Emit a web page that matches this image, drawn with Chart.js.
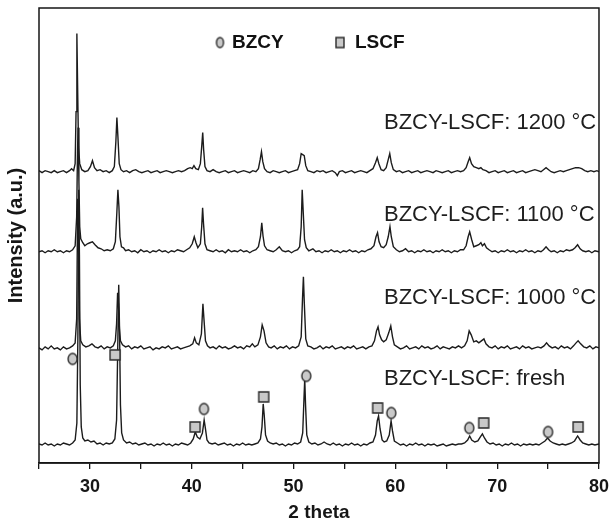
<!DOCTYPE html>
<html>
<head>
<meta charset="utf-8">
<script src="https://cdn.jsdelivr.net/npm/chart.js@4.4.1/dist/chart.umd.min.js"></script>
<style>
  html, body { margin: 0; padding: 0; background: #ffffff; }
  #c { display: block; }
</style>
</head>
<body>
<canvas id="c" width="616" height="524"></canvas>
<script>
// ---------------- DATA (2 theta, intensity above each trace's own baseline) ----------------
const xTickLabels = [30, 40, 50, 60, 70, 80];

const fresh = [[25.0,1],[25.3,0],[25.6,2],[25.9,0],[26.2,1],[26.5,-1],[26.8,1],[27.1,0],[27.4,2],[27.7,1],[28.0,0],[28.3,2],[28.55,5],[28.72,22],[28.82,110],[28.9,255],[28.97,190],[29.05,60],[29.15,18],[29.3,7],[29.5,4],[29.8,5],[30.1,3],[30.4,4],[30.7,1],[31.0,2],[31.3,0],[31.6,2],[31.9,1],[32.2,2],[32.45,6],[32.62,25],[32.73,95],[32.83,160],[32.91,115],[33.0,40],[33.12,12],[33.3,5],[33.6,2],[33.9,3],[34.2,1],[34.5,2],[34.8,0],[35.1,1],[35.4,2],[35.7,0],[36.0,1],[36.3,-1],[36.6,1],[36.9,0],[37.2,2],[37.5,0],[37.8,1],[38.1,-1],[38.4,1],[38.7,0],[39.0,2],[39.3,1],[39.6,0],[39.9,2],[40.15,6],[40.35,13],[40.55,8],[40.8,6],[41.05,12],[41.22,25],[41.35,16],[41.5,5],[41.7,2],[42.0,1],[42.3,2],[42.6,0],[42.9,1],[43.2,2],[43.5,0],[43.8,1],[44.1,-1],[44.4,1],[44.7,0],[45.0,2],[45.3,0],[45.6,1],[45.9,0],[46.2,1],[46.5,2],[46.75,6],[46.9,18],[47.02,41],[47.12,30],[47.25,10],[47.45,4],[47.7,2],[48.0,1],[48.3,2],[48.6,0],[48.9,1],[49.2,-1],[49.5,1],[49.8,0],[50.1,2],[50.4,1],[50.7,3],[50.9,12],[51.02,45],[51.1,66],[51.18,40],[51.3,10],[51.5,3],[51.8,1],[52.1,2],[52.4,0],[52.7,1],[53.0,3],[53.3,1],[53.6,0],[53.9,2],[54.2,0],[54.5,1],[54.8,-1],[55.1,1],[55.4,0],[55.7,2],[56.0,0],[56.3,1],[56.6,-1],[56.9,1],[57.2,0],[57.5,2],[57.8,3],[58.05,10],[58.22,24],[58.35,29],[58.5,16],[58.7,5],[58.9,3],[59.15,4],[59.4,10],[59.58,24],[59.72,14],[59.9,4],[60.2,2],[60.5,0],[60.8,1],[61.1,-1],[61.4,1],[61.7,0],[62.0,2],[62.3,0],[62.6,1],[62.9,-1],[63.2,1],[63.5,0],[63.8,1],[64.1,-1],[64.4,0],[64.7,1],[65.0,-1],[65.3,0],[65.6,1],[65.9,0],[66.2,1],[66.5,1],[66.8,2],[67.1,5],[67.3,9],[67.5,5],[67.8,3],[68.1,4],[68.35,8],[68.55,11],[68.75,7],[69.0,3],[69.3,1],[69.6,2],[69.9,0],[70.2,1],[70.5,-1],[70.8,1],[71.1,0],[71.4,2],[71.7,0],[72.0,1],[72.3,-1],[72.6,1],[72.9,0],[73.2,1],[73.5,0],[73.8,1],[74.1,0],[74.4,2],[74.7,4],[74.95,7],[75.2,4],[75.5,2],[75.8,1],[76.1,0],[76.4,1],[76.7,0],[77.0,1],[77.3,2],[77.6,4],[77.9,9],[78.15,5],[78.4,2],[78.7,1],[79.0,0],[79.3,1],[79.6,0],[80.0,1]];

const c1000 = [[25.0,1],[25.3,-1],[25.6,2],[25.9,0],[26.2,3],[26.5,0],[26.8,1],[27.1,-1],[27.4,2],[27.7,0],[28.0,1],[28.3,3],[28.55,6],[28.7,30],[28.8,150],[28.88,110],[28.97,30],[29.1,8],[29.3,4],[29.6,2],[29.9,3],[30.2,5],[30.5,2],[30.8,1],[31.1,3],[31.4,0],[31.7,2],[32.0,1],[32.3,3],[32.5,8],[32.62,25],[32.72,56],[32.8,45],[32.9,20],[33.0,8],[33.2,4],[33.5,2],[33.8,3],[34.1,0],[34.4,2],[34.7,1],[35.0,3],[35.3,0],[35.6,1],[35.9,2],[36.2,-1],[36.5,1],[36.8,0],[37.1,2],[37.4,1],[37.7,3],[38.0,0],[38.3,1],[38.6,2],[38.9,0],[39.2,1],[39.5,2],[39.8,3],[40.1,5],[40.28,11],[40.45,6],[40.7,4],[40.95,15],[41.1,45],[41.2,30],[41.35,8],[41.55,3],[41.8,1],[42.1,2],[42.4,0],[42.7,3],[43.0,1],[43.3,2],[43.6,0],[43.9,1],[44.2,3],[44.5,1],[44.8,2],[45.1,0],[45.4,3],[45.7,2],[45.95,5],[46.2,2],[46.5,4],[46.75,12],[46.92,24],[47.1,18],[47.3,6],[47.55,2],[47.8,1],[48.1,3],[48.4,0],[48.7,2],[49.0,1],[49.3,3],[49.6,0],[49.9,2],[50.2,1],[50.5,3],[50.75,12],[50.88,50],[50.97,72],[51.06,45],[51.2,10],[51.4,3],[51.7,2],[52.0,0],[52.3,1],[52.6,3],[52.9,0],[53.2,2],[53.5,1],[53.8,3],[54.1,0],[54.4,1],[54.7,2],[55.0,0],[55.3,2],[55.6,1],[55.9,3],[56.2,0],[56.5,1],[56.8,2],[57.1,0],[57.4,2],[57.7,3],[57.95,8],[58.15,18],[58.3,22],[58.45,14],[58.65,9],[58.85,7],[59.1,9],[59.35,16],[59.55,23],[59.72,12],[59.9,4],[60.2,2],[60.5,0],[60.8,1],[61.1,3],[61.4,0],[61.7,1],[62.0,2],[62.3,0],[62.6,3],[62.9,1],[63.2,2],[63.5,0],[63.8,1],[64.1,3],[64.4,0],[64.7,2],[65.0,1],[65.3,0],[65.6,2],[65.9,1],[66.2,3],[66.5,1],[66.8,3],[67.05,8],[67.25,18],[67.45,14],[67.7,7],[67.95,8],[68.2,6],[68.45,8],[68.7,10],[68.9,5],[69.2,2],[69.5,1],[69.8,3],[70.1,0],[70.4,2],[70.7,1],[71.0,3],[71.3,0],[71.6,1],[71.9,2],[72.2,0],[72.5,3],[72.8,1],[73.1,2],[73.4,0],[73.7,1],[74.0,2],[74.3,1],[74.6,3],[74.85,6],[75.1,3],[75.4,1],[75.7,2],[76.0,0],[76.3,3],[76.6,1],[76.9,2],[77.2,0],[77.5,3],[77.75,6],[77.95,8],[78.2,5],[78.5,2],[78.8,1],[79.1,3],[79.4,0],[79.7,2],[80.0,1]];

const c1100 = [[25.0,0],[25.3,1],[25.6,-1],[25.9,1],[26.2,0],[26.5,2],[26.8,0],[27.1,1],[27.4,-1],[27.7,1],[28.0,0],[28.3,2],[28.55,6],[28.7,35],[28.78,100],[28.84,124],[28.92,70],[29.0,25],[29.1,13],[29.3,9],[29.5,6],[29.75,8],[30.0,9],[30.25,10],[30.5,7],[30.8,4],[31.1,3],[31.4,1],[31.7,2],[32.0,1],[32.3,3],[32.5,10],[32.65,40],[32.75,62],[32.85,45],[32.95,15],[33.1,5],[33.3,4],[33.5,1],[33.8,2],[34.1,0],[34.4,1],[34.7,-1],[35.0,2],[35.3,0],[35.6,1],[35.9,-1],[36.2,1],[36.5,0],[36.8,2],[37.1,0],[37.4,1],[37.7,-1],[38.0,1],[38.3,0],[38.6,2],[38.9,1],[39.2,0],[39.5,2],[39.8,4],[40.05,8],[40.25,15],[40.42,9],[40.6,4],[40.85,8],[40.98,25],[41.07,44],[41.16,28],[41.3,8],[41.5,2],[41.8,1],[42.1,0],[42.4,2],[42.7,0],[43.0,1],[43.3,-1],[43.6,2],[43.9,0],[44.2,1],[44.5,0],[44.8,2],[45.1,0],[45.4,1],[45.7,-1],[46.0,1],[46.3,2],[46.55,5],[46.75,15],[46.88,29],[47.0,16],[47.15,6],[47.4,2],[47.7,1],[48.0,0],[48.3,2],[48.6,5],[48.9,1],[49.2,0],[49.5,1],[49.8,-1],[50.1,1],[50.4,2],[50.6,5],[50.75,25],[50.85,62],[50.95,40],[51.08,12],[51.25,4],[51.5,1],[51.9,3],[52.2,0],[52.5,1],[52.8,-1],[53.1,1],[53.4,0],[53.7,2],[54.0,0],[54.3,1],[54.6,-1],[54.9,1],[55.2,0],[55.5,2],[55.8,0],[56.1,1],[56.4,-1],[56.7,1],[57.0,0],[57.3,2],[57.6,3],[57.9,6],[58.1,15],[58.25,19],[58.4,10],[58.6,5],[58.85,4],[59.1,7],[59.3,15],[59.47,25],[59.6,15],[59.8,5],[60.1,2],[60.4,0],[60.7,1],[61.0,3],[61.3,0],[61.6,1],[61.9,-1],[62.2,1],[62.5,0],[62.8,2],[63.1,0],[63.4,1],[63.7,-1],[64.0,1],[64.3,0],[64.6,2],[64.9,0],[65.2,1],[65.5,-1],[65.8,1],[66.1,0],[66.4,2],[66.7,2],[66.95,6],[67.15,15],[67.3,20],[67.5,12],[67.7,5],[67.95,6],[68.2,7],[68.4,9],[68.55,6],[68.75,8],[68.95,4],[69.2,2],[69.5,0],[69.8,1],[70.1,-1],[70.4,1],[70.7,0],[71.0,2],[71.3,0],[71.6,1],[71.9,-1],[72.2,1],[72.5,0],[72.8,2],[73.1,0],[73.4,1],[73.7,-1],[74.0,1],[74.3,0],[74.55,2],[74.8,5],[75.05,2],[75.3,0],[75.6,1],[75.9,-1],[76.2,1],[76.5,0],[76.8,2],[77.1,1],[77.4,2],[77.65,4],[77.9,7],[78.15,3],[78.4,1],[78.7,0],[79.0,1],[79.3,-1],[79.6,1],[80.0,0]];

const c1200 = [[25.0,1],[25.3,-1],[25.6,1],[25.9,0],[26.2,-1],[26.5,1],[26.8,-1],[27.1,0],[27.4,1],[27.7,-1],[28.0,1],[28.2,3],[28.4,1],[28.55,8],[28.64,60],[28.72,138],[28.8,80],[28.88,25],[29.0,8],[29.2,2],[29.5,0],[29.8,1],[30.05,5],[30.25,11],[30.45,4],[30.7,1],[31.0,2],[31.3,0],[31.6,1],[31.9,-1],[32.2,1],[32.4,5],[32.55,30],[32.65,54],[32.75,35],[32.88,8],[33.05,2],[33.3,0],[33.6,1],[33.9,-1],[34.2,1],[34.5,2],[34.8,0],[35.1,-1],[35.4,0],[35.7,1],[36.0,-1],[36.3,0],[36.6,1],[36.9,-1],[37.2,0],[37.5,1],[37.8,0],[38.1,-1],[38.4,0],[38.7,1],[39.0,0],[39.3,1],[39.6,3],[39.85,4],[40.05,3],[40.22,6],[40.4,3],[40.65,2],[40.85,8],[40.98,25],[41.08,39],[41.17,22],[41.3,5],[41.5,1],[41.8,0],[42.1,2],[42.4,0],[42.7,-1],[43.0,0],[43.3,1],[43.6,-1],[43.9,0],[44.2,1],[44.5,-1],[44.8,0],[45.1,1],[45.4,0],[45.7,-1],[46.0,1],[46.3,0],[46.55,3],[46.72,12],[46.85,20],[46.98,10],[47.15,3],[47.4,0],[47.7,-1],[48.0,1],[48.3,0],[48.6,-1],[48.9,0],[49.2,1],[49.5,-1],[49.8,0],[50.1,1],[50.4,2],[50.6,8],[50.75,18],[50.9,17],[51.05,16],[51.2,6],[51.4,1],[51.7,0],[52.0,-1],[52.3,1],[52.6,0],[52.9,1],[53.2,-1],[53.5,0],[53.8,1],[54.1,-1],[54.3,-4],[54.5,0],[54.8,1],[55.1,-1],[55.4,0],[55.7,1],[56.0,-1],[56.3,0],[56.6,1],[56.9,0],[57.2,-1],[57.5,1],[57.8,3],[58.05,9],[58.22,14],[58.38,8],[58.6,2],[58.85,1],[59.1,4],[59.3,12],[59.45,18],[59.6,9],[59.8,2],[60.1,0],[60.4,1],[60.7,-1],[61.0,0],[61.3,1],[61.6,-1],[61.9,0],[62.2,1],[62.5,-1],[62.8,0],[63.1,1],[63.4,0],[63.7,-1],[64.0,1],[64.3,0],[64.6,-1],[64.9,0],[65.2,1],[65.5,-1],[65.8,0],[66.1,1],[66.4,0],[66.7,1],[66.95,4],[67.15,10],[67.3,14],[67.48,8],[67.7,5],[67.95,4],[68.2,3],[68.4,4],[68.6,2],[68.9,1],[69.2,-1],[69.5,0],[69.8,1],[70.1,-1],[70.4,0],[70.7,1],[71.0,-1],[71.3,0],[71.6,1],[71.9,-1],[72.2,0],[72.5,1],[72.8,-1],[73.1,0],[73.4,1],[73.7,2],[74.0,1],[74.3,0],[74.55,2],[74.8,4],[75.05,2],[75.3,0],[75.6,-1],[75.9,0],[76.2,1],[76.5,0],[76.8,1],[77.1,2],[77.4,3],[77.7,4],[78.0,4],[78.3,3],[78.6,1],[78.9,0],[79.2,1],[79.5,0],[79.8,1],[80.0,0]];

// vertical offsets of each trace (stacked display, arbitrary units)
const seriesNames   = ['BZCY-LSCF: fresh', 'BZCY-LSCF: 1000 °C', 'BZCY-LSCF: 1100 °C', 'BZCY-LSCF: 1200 °C'];
const seriesOffsets = [18, 114, 211, 291];
const labelLevels   = [84, 165, 248, 340];   // y value (same units) where each trace name sits

// phase markers on the fresh pattern: [2 theta, y]
const bzcyMarks = [[28.3,104],[41.2,54],[51.25,87],[59.6,50],[67.26,35],[75.0,31]];
const lscfMarks = [[32.47,108],[40.33,36],[47.07,66],[58.26,55],[68.68,40],[77.95,36]];

const yMax = 454.5;
// -------------------------------------------------------------------------------------------

const FONT = '"Liberation Sans", Arial, Helvetica, sans-serif';
const INK = '#161616';

function markerCanvas(kind, w, h) {
  const c = document.createElement('canvas');
  c.width = w + 4; c.height = h + 4;
  const g = c.getContext('2d');
  g.fillStyle = '#c9c9c9';
  g.strokeStyle = '#2a2a2a';
  g.lineWidth = 1.4;
  g.beginPath();
  if (kind === 'ellipse') g.ellipse(c.width / 2, c.height / 2, w / 2, h / 2, 0, 0, Math.PI * 2);
  else g.rect(2, 2, w, h);
  g.fill(); g.stroke();
  return c;
}
const ellipseMark = markerCanvas('ellipse', 9, 11);
const squareMark  = markerCanvas('rect', 10, 10);
const ellipseSmall = markerCanvas('ellipse', 7, 10);
const squareSmall  = markerCanvas('rect', 8, 10);

const traces = [fresh, c1000, c1100, c1200];
const lineSets = traces.map((arr, i) => ({
  type: 'line',
  label: seriesNames[i],
  data: arr.map(p => ({ x: p[0], y: p[1] + seriesOffsets[i] })),
  borderColor: '#1c1c1c',
  borderWidth: 1.4,
  pointRadius: 0,
  tension: 0,
  fill: false
}));

const markerSets = [
  { type: 'scatter', label: 'BZCY', data: bzcyMarks.map(p => ({ x: p[0], y: p[1] })), pointStyle: ellipseMark, pointRadius: 6 },
  { type: 'scatter', label: 'LSCF', data: lscfMarks.map(p => ({ x: p[0], y: p[1] })), pointStyle: squareMark, pointRadius: 6 }
];

const framePlugin = {
  id: 'frame',
  afterDatasetsDraw(chart) {
    const { ctx, chartArea: a } = chart;
    ctx.save();
    ctx.strokeStyle = INK;
    ctx.lineWidth = 1.5;
    ctx.strokeRect(a.left, a.top, a.right - a.left, a.bottom - a.top);
    ctx.restore();
  }
};

const annotationPlugin = {
  id: 'labels',
  afterDraw(chart) {
    const { ctx } = chart;
    const y = chart.scales.y;
    ctx.save();
    // trace names
    ctx.fillStyle = '#1e1e1e';
    ctx.font = '22px ' + FONT;
    ctx.textBaseline = 'middle';
    ctx.textAlign = 'left';
    seriesNames.forEach((name, i) => {
      ctx.fillText(name, 384, y.getPixelForValue(labelLevels[i]));
    });
    // legend
    const ly = y.getPixelForValue(420);
    ctx.drawImage(ellipseSmall, 220 - ellipseSmall.width / 2, ly - ellipseSmall.height / 2);
    ctx.drawImage(squareSmall, 340 - squareSmall.width / 2, ly - squareSmall.height / 2);
    ctx.font = 'bold 19px ' + FONT;
    ctx.fillStyle = '#111';
    ctx.fillText('BZCY', 232, ly);
    ctx.fillText('LSCF', 355, ly);
    ctx.restore();
  }
};

new Chart(document.getElementById('c'), {
  data: { datasets: [...markerSets, ...lineSets] },
  options: {
    responsive: false,
    devicePixelRatio: 1,
    animation: false,
    events: [],
    layout: { padding: { top: 8, right: 13, left: 0, bottom: 0 } },
    plugins: { legend: { display: false }, tooltip: { enabled: false } },
    scales: {
      x: {
        type: 'linear',
        position: 'bottom',
        min: 25, max: 80,
        afterFit: s => { s.height = 61; },
        afterBuildTicks: s => {
          const t = [];
          for (let v = 25; v <= 80; v += 5) t.push({ value: v });
          s.ticks = t;
        },
        ticks: {
          autoSkip: false, maxRotation: 0, padding: 7,
          color: INK,
          font: { family: FONT, size: 18, weight: 'bold' },
          callback: v => (xTickLabels.includes(v) ? String(v) : '')
        },
        grid: { drawOnChartArea: false, drawTicks: true, tickLength: 6, color: INK, lineWidth: 1.3 },
        border: { display: true, color: INK, width: 1.5 },
        title: { display: true, text: '2 theta', color: INK, font: { family: FONT, size: 19, weight: 'bold' }, padding: { top: 0, bottom: 0 } }
      },
      y: {
        type: 'linear',
        min: 0, max: yMax,
        afterFit: s => { s.width = 39; },
        ticks: { display: false },
        grid: { display: false },
        border: { display: false },
        title: { display: true, text: 'Intensity (a.u.)', color: INK, font: { family: FONT, size: 20, weight: 'bold' }, padding: { top: 4, bottom: 0 } }
      }
    }
  },
  plugins: [framePlugin, annotationPlugin]
});
</script>
</body>
</html>
